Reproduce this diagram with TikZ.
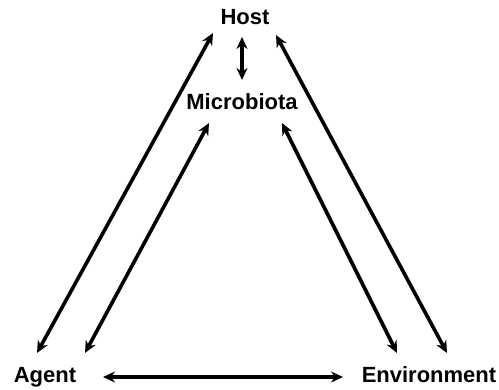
\documentclass[tikz,border=0pt]{standalone}
\usepackage{fontspec}
\setmainfont{Liberation Sans}
\usetikzlibrary{arrows.meta}
\begin{document}
\begin{tikzpicture}[x=1pt,y=-1pt,>={Stealth[length=12pt,width=11pt]},
  lbl/.style={anchor=base, inner sep=0pt, font=\bfseries\fontsize{22}{26}\selectfont},
  link/.style={<->, line width=3.6pt}]
\useasboundingbox (0,0) rectangle (499,390);
\node[lbl] (host) at (245,25) {Host};
\node[lbl] (mic) at (242,110) {Microbiota};
\node[lbl] (agent) at (45,383) {Agent};
\node[lbl] (env) at (429,383) {Environment};

% arrow ends
\coordinate (hostT) at (242,37);
\coordinate (hostB) at (242,80);
\coordinate (hostL) at (213,33);
\coordinate (hostR) at (276,35);
\coordinate (micL) at (209,123);
\coordinate (micR) at (282,123);
\coordinate (agentO) at (37,353);
\coordinate (agentI) at (85,353);
\coordinate (envI) at (397,353);
\coordinate (envO) at (447,353);
\coordinate (agentR) at (103,377);
\coordinate (envL) at (343,377);

\draw[link] (hostT) -- (hostB);
\draw[link] (agentO) -- (hostL);
\draw[link] (agentI) -- (micL);
\draw[link] (envO) -- (hostR);
\draw[link] (envI) -- (micR);
\draw[link] (agentR) -- (envL);
\end{tikzpicture}
\end{document}
